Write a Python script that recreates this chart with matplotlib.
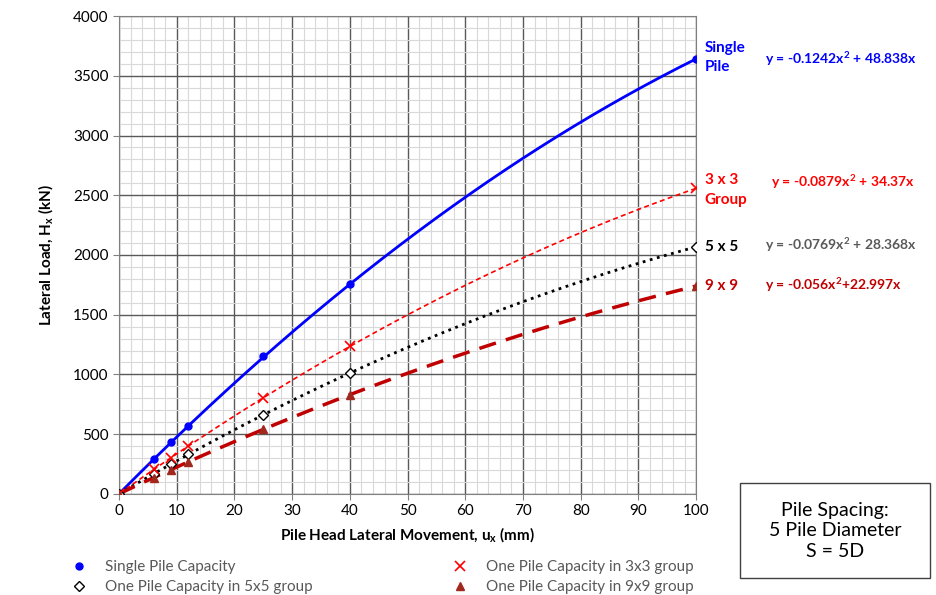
import matplotlib.pyplot as plt
import numpy as np
from matplotlib.ticker import MultipleLocator
from matplotlib.patches import Rectangle

plt.rcParams['font.family'] = ['Lato', 'DejaVu Sans']

u_x = [0, 6, 9, 12, 25, 40, 100]
single = [0, 290, 430, 570, 1150, 1755, 3640]
grp3 = [0, 205, 300, 400, 805, 1235, 2560]
grp5 = [0, 167, 250, 330, 660, 1012, 2068]
grp9 = [0, 136, 202, 268, 540, 830, 1740]

# trendline coefficients shown on the chart (a, b in y = a x^2 + b x)
fit_single = [-0.1242, 48.838]
fit_3 = [-0.0879, 34.37]
fit_5 = [-0.0769, 28.368]
fit_9 = [-0.056, 22.997]

fig = plt.figure(figsize=(9.37, 5.95), dpi=100)
ax = fig.add_axes([0.127, 0.170, 0.616, 0.803])

xs = np.linspace(0, 100, 200)
def trend(c):
    return c[0] * xs ** 2 + c[1] * xs

# trendlines
ax.plot(xs, trend(fit_single), '-', color='#0000FF', linewidth=2, zorder=3)
ax.plot(xs, trend(fit_3), '--', color='#FF0000', linewidth=1.2, dashes=(3, 2), zorder=3)
ax.plot(xs, trend(fit_5), ':', color='black', linewidth=2, zorder=3)
ax.plot(xs, trend(fit_9), '--', color='#C00000', linewidth=2.5, dashes=(5, 3), zorder=3)

# markers
ax.plot(u_x, single, 'o', color='#0000FF', markersize=5, zorder=4, label='Single Pile Capacity')
ax.plot(u_x, grp5, 'D', markerfacecolor='white', markeredgecolor='black', markersize=5.5,
        zorder=4, label='One Pile Capacity in 5x5 group')
ax.plot(u_x, grp3, 'x', color='#FF0000', markersize=7, markeredgewidth=1.2, zorder=4,
        label='One Pile Capacity in 3x3 group')
ax.plot(u_x, grp9, '^', color='#A0281E', markersize=6, zorder=4,
        label='One Pile Capacity in 9x9 group')

ax.set_xlim(0, 100)
ax.set_ylim(0, 4000)
ax.xaxis.set_major_locator(MultipleLocator(10))
ax.xaxis.set_minor_locator(MultipleLocator(2))
ax.yaxis.set_major_locator(MultipleLocator(500))
ax.yaxis.set_minor_locator(MultipleLocator(100))
ax.grid(True, which='major', color='#595959', linewidth=1.0, zorder=1)
ax.grid(True, which='minor', color='#D9D9D9', linewidth=0.8, zorder=0)
ax.set_axisbelow(True)
for s in ax.spines.values():
    s.set_color('#808080')
ax.tick_params(axis='both', which='major', labelsize=11, length=4, color='#808080')
ax.tick_params(axis='both', which='minor', length=0)

ax.set_xlabel('Pile Head Lateral Movement, u$_\\mathregular{x}$ (mm)', fontsize=11,
              fontweight='bold', labelpad=5)
ax.set_ylabel('Lateral Load, H$_\\mathregular{x}$ (kN)', fontsize=11,
              fontweight='bold', labelpad=12)

# labels at the right end of each curve
ax.text(101.5, 3790, 'Single\nPile', color='#0000FF', fontsize=11, fontweight='bold',
        va='top', ha='left', linespacing=1.4, clip_on=False)
ax.text(101.5, 2690, '3 x 3\nGroup', color='#FF0000', fontsize=11, fontweight='bold',
        va='top', ha='left', linespacing=1.6, clip_on=False)
ax.text(101.5, 2068, '5 x 5', color='black', fontsize=11, fontweight='bold',
        va='center', ha='left', clip_on=False)
ax.text(101.5, 1740, '9 x 9', color='#C00000', fontsize=11, fontweight='bold',
        va='center', ha='left', clip_on=False)

ax.text(112, 3640, 'y = -0.1242x$^\\mathregular{2}$ + 48.838x', color='#0000FF', fontsize=10,
        fontweight='bold', va='center', ha='left', clip_on=False)
ax.text(113, 2610, 'y = -0.0879x$^\\mathregular{2}$ + 34.37x', color='#FF0000', fontsize=10,
        fontweight='bold', va='center', ha='left', clip_on=False)
ax.text(112, 2085, 'y = -0.0769x$^\\mathregular{2}$ + 28.368x', color='#595959', fontsize=10,
        fontweight='bold', va='center', ha='left', clip_on=False)
ax.text(112, 1755, 'y = -0.056x$^\\mathregular{2}$+22.997x', color='#C00000', fontsize=10,
        fontweight='bold', va='center', ha='left', clip_on=False)

# legend below the plot
leg = fig.legend(loc='lower left', bbox_to_anchor=(0.057, -0.022), ncol=2, frameon=False,
                 fontsize=11, columnspacing=8.9, handletextpad=0.95, labelspacing=0.4,
                 handlelength=1.5)
for t in leg.get_texts():
    t.set_color('#595959')

# note box
fig.patches.append(Rectangle((0.790, 0.029), 0.203, 0.160, transform=fig.transFigure,
                             facecolor='white', edgecolor='#404040', linewidth=1))
fig.text(0.891, 0.108, 'Pile Spacing:\n5 Pile Diameter\nS = 5D', ha='center', va='center',
         fontsize=14, linespacing=1.25)

plt.savefig('out.png', dpi=100)
